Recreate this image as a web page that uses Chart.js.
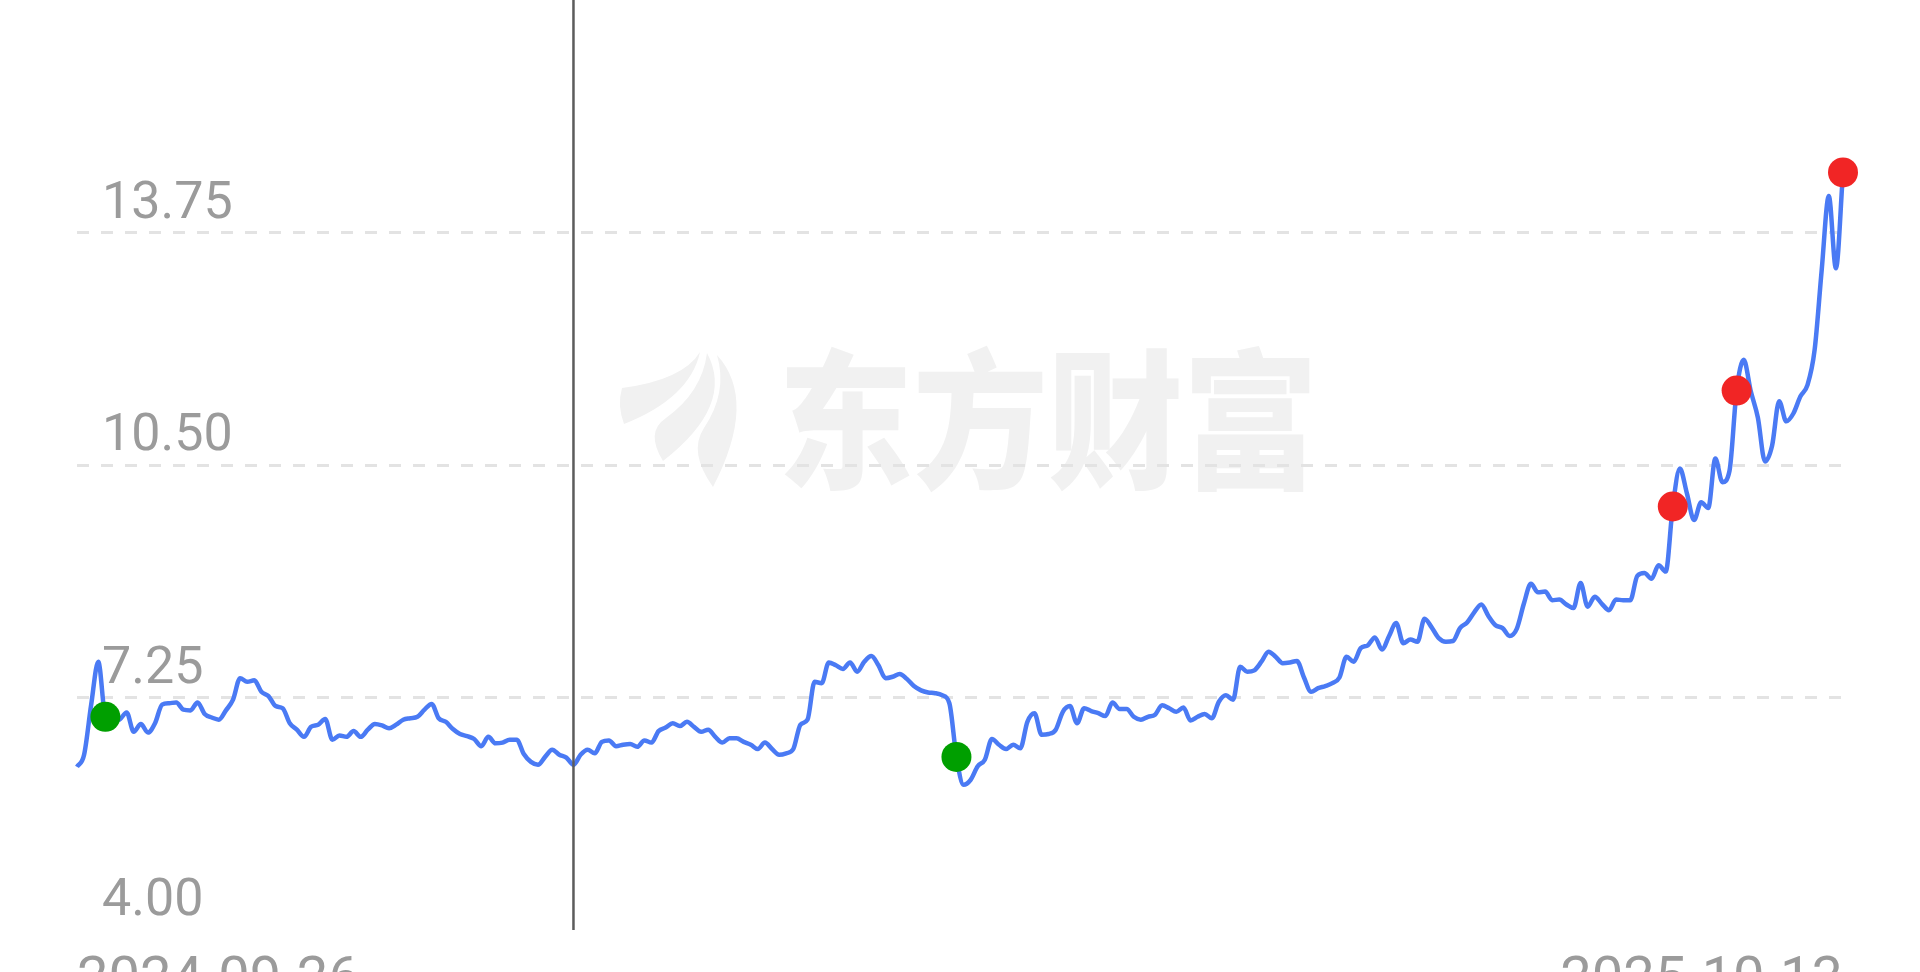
<!DOCTYPE html>
<html>
<head>
<meta charset="utf-8">
<script src="https://cdn.jsdelivr.net/npm/chart.js@4.4.1/dist/chart.umd.min.js"></script>
<style>
  html, body { margin: 0; padding: 0; background: #fff; overflow: hidden; }
  #wrap { position: absolute; left: 0; top: 0; width: 1920px; height: 1040px; }
</style>
</head>
<body>
<div id="wrap"><canvas id="chart" width="1920" height="1040"></canvas></div>
<script>
// daily close, 2024-09-26 .. 2025-10-13 (250 trading days)
const prices = [
  6.28, 6.45, 7.15, 7.75, 6.98, 6.92, 6.94, 7.04, 6.77, 6.88,
  6.76, 6.89, 7.15, 7.17, 7.18, 7.08, 7.07, 7.18, 7.02, 6.97,
  6.94, 7.07, 7.22, 7.52, 7.47, 7.49, 7.33, 7.27, 7.13, 7.10,
  6.89, 6.80, 6.70, 6.84, 6.87, 6.95, 6.66, 6.72, 6.70, 6.78,
  6.70, 6.80, 6.88, 6.86, 6.82, 6.87, 6.94, 6.96, 6.98, 7.08,
  7.16, 6.96, 6.91, 6.81, 6.74, 6.71, 6.67, 6.57, 6.70, 6.61,
  6.62, 6.66, 6.66, 6.46, 6.35, 6.31, 6.42, 6.52, 6.45, 6.41,
  6.31, 6.45, 6.52, 6.47, 6.63, 6.65, 6.57, 6.59, 6.60, 6.56,
  6.65, 6.62, 6.78, 6.83, 6.89, 6.85, 6.91, 6.84, 6.77, 6.80,
  6.70, 6.62, 6.68, 6.68, 6.63, 6.59, 6.53, 6.62, 6.53, 6.45,
  6.47, 6.53, 6.87, 6.94, 7.47, 7.45, 7.74, 7.70, 7.65, 7.74,
  7.61, 7.75, 7.83, 7.70, 7.52, 7.54, 7.58, 7.51, 7.41, 7.35,
  7.32, 7.31, 7.28, 7.17, 6.42, 6.03, 6.10, 6.29, 6.38, 6.67,
  6.59, 6.53, 6.59, 6.54, 6.91, 7.03, 6.73, 6.74, 6.80, 7.05,
  7.13, 6.89, 7.10, 7.06, 7.03, 6.99, 7.18, 7.09, 7.09, 6.98,
  6.94, 6.98, 7.01, 7.14, 7.10, 7.05, 7.11, 6.93, 6.98, 7.02,
  6.96, 7.19, 7.28, 7.22, 7.68, 7.61, 7.63, 7.75, 7.89, 7.82,
  7.73, 7.74, 7.76, 7.53, 7.33, 7.38, 7.41, 7.45, 7.53, 7.82,
  7.75, 7.94, 7.98, 8.09, 7.92, 8.11, 8.29, 8.01, 8.06, 8.03,
  8.35, 8.23, 8.08, 8.03, 8.04, 8.22, 8.30, 8.44, 8.55, 8.39,
  8.26, 8.22, 8.11, 8.21, 8.56, 8.84, 8.72, 8.73, 8.61, 8.62,
  8.55, 8.50, 8.85, 8.52, 8.66, 8.56, 8.47, 8.62, 8.61, 8.61,
  8.95, 8.99, 8.91, 9.10, 9.01, 9.92, 10.45, 10.10, 9.73, 9.98,
  9.90, 10.59, 10.26, 10.42, 11.54, 11.97, 11.53, 11.16, 10.55, 10.77,
  11.39, 11.11, 11.22, 11.46, 11.62, 12.11, 13.23, 14.26, 13.25, 14.59
];
const xTickLabels = ['2024-09-26', '2025-10-13'];
const yTicks = [4, 7.25, 10.5, 13.75];
const yMin = 4, yMax = 17;
const buyIndex = [4, 124];          // green dots
const sellIndex = [225, 234, 249];  // red dots
const crosshairIndex = 70;

const lastIdx = prices.length - 1;
const labels = prices.map((_, i) => i === 0 ? xTickLabels[0] : (i === lastIdx ? xTickLabels[1] : ''));
const markers = idx => prices.map((v, i) => idx.includes(i) ? v : null);

Chart.defaults.font.family = 'Roboto';

const watermark = {
  id: 'watermark',
  beforeDraw(chart) {
    const ctx = chart.ctx;
    ctx.save();
    ctx.fillStyle = '#f1f1f1';
    // logo: three leaves
    ctx.beginPath();
    ctx.moveTo(622, 388);
    ctx.quadraticCurveTo(683, 380, 700, 352);
    ctx.quadraticCurveTo(690, 398, 624, 424);
    ctx.quadraticCurveTo(617, 405, 622, 388);
    ctx.fill();
    ctx.beginPath();
    ctx.moveTo(663, 461);
    ctx.quadraticCurveTo(645, 432, 666, 418);
    ctx.quadraticCurveTo(702, 392, 707, 353);
    ctx.quadraticCurveTo(735, 405, 663, 461);
    ctx.fill();
    ctx.beginPath();
    ctx.moveTo(717, 355);
    ctx.quadraticCurveTo(758, 400, 713, 487);
    ctx.quadraticCurveTo(688, 452, 704, 428);
    ctx.quadraticCurveTo(728, 392, 717, 355);
    ctx.fill();
    ctx.font = '900 150px "Noto Sans CJK SC"';
    ctx.textBaseline = 'middle';
    ctx.textAlign = 'left';
    ctx.translate(778, 420);
    ctx.scale(0.9, 1);
    ctx.fillText('东方财富', 0, 0);
    ctx.restore();
  }
};

const crosshair = {
  id: 'crosshair',
  afterDatasetsDraw(chart) {
    const { ctx, chartArea, scales } = chart;
    const x = scales.x.getPixelForValue(crosshairIndex);
    ctx.save();
    ctx.strokeStyle = '#5c5c5c';
    ctx.lineWidth = 2.5;
    ctx.beginPath();
    ctx.moveTo(x, chartArea.top);
    ctx.lineTo(x, chartArea.bottom);
    ctx.stroke();
    ctx.restore();
  }
};

new Chart(document.getElementById('chart'), {
  type: 'line',
  data: {
    labels: labels,
    datasets: [
      {
        data: prices,
        borderColor: '#4a7af4',
        borderWidth: 4.5,
        pointRadius: 0,
        cubicInterpolationMode: 'monotone',
        order: 1
      },
      {
        data: markers(buyIndex),
        showLine: false,
        pointRadius: 15,
        pointBorderWidth: 0,
        pointBackgroundColor: '#009f00',
        clip: false,
        order: 0
      },
      {
        data: markers(sellIndex),
        showLine: false,
        pointRadius: 15,
        pointBorderWidth: 0,
        pointBackgroundColor: '#f12525',
        clip: false,
        order: 0
      }
    ]
  },
  options: {
    responsive: false,
    animation: false,
    events: [],
    layout: { autoPadding: false, padding: { left: 77, right: 77, top: 0, bottom: 0 } },
    plugins: { legend: { display: false }, tooltip: { enabled: false } },
    scales: {
      x: {
        type: 'category',
        grid: { display: false, drawTicks: false },
        border: { display: false },
        ticks: {
          autoSkip: false,
          maxRotation: 0,
          align: 'inner',
          padding: 18,
          color: '#9b9b9b',
          font: { size: 56 }
        },
        afterBuildTicks: s => { s.ticks = [{ value: 0 }, { value: lastIdx }]; },
        afterFit: s => { s.height = 110; s.paddingLeft = 0; s.paddingRight = 0; }
      },
      y: {
        min: yMin,
        max: yMax,
        grid: {
          color: c => (c.tick && c.tick.value === yMin) ? 'rgba(0,0,0,0)' : '#e3e3e3',
          lineWidth: 3,
          drawTicks: false
        },
        border: { display: false, dash: [12, 12] },
        ticks: {
          mirror: true,
          padding: 25,
          labelOffset: -28,
          color: '#9b9b9b',
          font: { size: 52 },
          callback: v => Number(v).toFixed(2)
        },
        afterBuildTicks: s => { s.ticks = yTicks.map(v => ({ value: v })); },
        afterFit: s => { s.width = 0; s.paddingTop = 0; s.paddingBottom = 0; }
      }
    }
  },
  plugins: [watermark, crosshair]
});
</script>
</body>
</html>
